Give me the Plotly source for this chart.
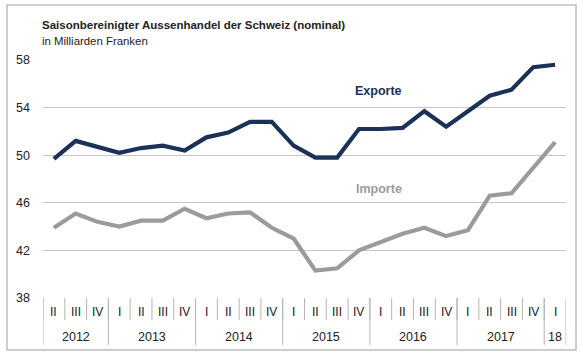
import plotly.graph_objects as go

quarters = ["II", "III", "IV",
            "I", "II", "III", "IV",
            "I", "II", "III", "IV",
            "I", "II", "III", "IV",
            "I", "II", "III", "IV",
            "I", "II", "III", "IV",
            "I"]
years = ["2012", "2013", "2014", "2015", "2016", "2017", "18"]
year_quarter_counts = [3, 4, 4, 4, 4, 4, 1]

exporte = [49.7, 51.2, 50.7, 50.2, 50.6, 50.8, 50.4, 51.5, 51.9, 52.8, 52.8, 50.8,
           49.8, 49.8, 52.2, 52.2, 52.3, 53.7, 52.4, 53.7, 55.0, 55.5, 57.4, 57.6]
importe = [43.9, 45.1, 44.4, 44.0, 44.5, 44.5, 45.5, 44.7, 45.1, 45.2, 43.9, 43.0,
           40.3, 40.5, 42.0, 42.7, 43.4, 43.9, 43.2, 43.7, 46.6, 46.8, 49.0, 51.1]
y_ticks = [38, 42, 46, 50, 54, 58]

FONT = "Liberation Sans, Arial, sans-serif"
NAVY = "#1b3158"
GRAY = "#9b9b9b"
TXT = "#222222"

W, H = 582, 358
ML, MR, MT, MB = 43, 16, 60, 60
plot_w = W - ML - MR
plot_h = H - MT - MB

x = list(range(len(quarters)))

fig = go.Figure()
fig.add_trace(go.Scatter(x=x, y=exporte, mode="lines", name="Exporte",
                         line=dict(color=NAVY, width=4.2), hoverinfo="skip"))
fig.add_trace(go.Scatter(x=x, y=importe, mode="lines", name="Importe",
                         line=dict(color=GRAY, width=4.2), hoverinfo="skip"))

shapes = []
annotations = []

# quarter dividers and labels
for i, q in enumerate(quarters):
    shapes.append(dict(type="line", xref="x", yref="paper", x0=i - 0.5, x1=i - 0.5,
                       y0=0, y1=-22 / plot_h, line=dict(color="#b5b5b5", width=1)))
    annotations.append(dict(x=i, y=0, xref="x", yref="paper", text=q, showarrow=False,
                            yshift=-14, yanchor="middle",
                            font=dict(family=FONT, size=12, color=TXT)))

# year dividers and labels
start = 0
for yr, n in zip(years, year_quarter_counts):
    shapes.append(dict(type="line", xref="x", yref="paper", x0=start - 0.5, x1=start - 0.5,
                       y0=0, y1=-47 / plot_h, line=dict(color="#b5b5b5", width=1)))
    annotations.append(dict(x=start + (n - 1) / 2, y=0, xref="x", yref="paper", text=yr,
                            showarrow=False, yshift=-39, yanchor="middle",
                            font=dict(family=FONT, size=12.5, color=TXT)))
    start += n
shapes.append(dict(type="line", xref="x", yref="paper", x0=start - 0.5, x1=start - 0.5,
                   y0=0, y1=-47 / plot_h, line=dict(color="#b5b5b5", width=1)))

# outer frame
shapes.append(dict(type="rect", xref="paper", yref="paper",
                   x0=(7 - ML) / plot_w, x1=(576 - ML) / plot_w,
                   y0=-(350 - (H - MB)) / plot_h, y1=1 + (MT - 5) / plot_h,
                   line=dict(color="#bdbdbd", width=1.5), layer="below"))

# series labels
annotations.append(dict(x=14.9, y=55.4, xref="x", yref="y", text="<b>Exporte</b>",
                        showarrow=False, font=dict(family=FONT, size=12.5, color=NAVY)))
annotations.append(dict(x=14.9, y=47.15, xref="x", yref="y", text="<b>Importe</b>",
                        showarrow=False, font=dict(family=FONT, size=12.5, color=GRAY)))

# title & subtitle
annotations.append(dict(x=(40 - ML) / plot_w, y=1 + (MT - 25) / plot_h, xref="paper", yref="paper",
                        xanchor="left", yanchor="middle", showarrow=False,
                        text="<b>Saisonbereinigter Aussenhandel der Schweiz (nominal)</b>",
                        font=dict(family=FONT, size=11.5, color=TXT)))
annotations.append(dict(x=(40 - ML) / plot_w, y=1 + (MT - 41) / plot_h, xref="paper", yref="paper",
                        xanchor="left", yanchor="middle", showarrow=False,
                        text="in Milliarden Franken",
                        font=dict(family=FONT, size=11.4, color=TXT)))

fig.update_layout(
    width=W, height=H,
    margin=dict(l=ML, r=MR, t=MT, b=MB),
    paper_bgcolor="white", plot_bgcolor="white",
    showlegend=False,
    shapes=shapes, annotations=annotations,
    xaxis=dict(range=[-0.5, len(quarters) - 0.5], showticklabels=False, showgrid=False,
               zeroline=False, showline=False, ticks=""),
    yaxis=dict(range=[38, 58], tickvals=y_ticks, showgrid=True, gridcolor="#c6c6c6",
               gridwidth=1, zeroline=False, showline=False, ticks="",
               tickfont=dict(family=FONT, size=12.5, color=TXT), ticklabelstandoff=12),
)

fig.write_html("out.html", config={"displayModeBar": False},
               post_script="document.body.style.margin='0';")
